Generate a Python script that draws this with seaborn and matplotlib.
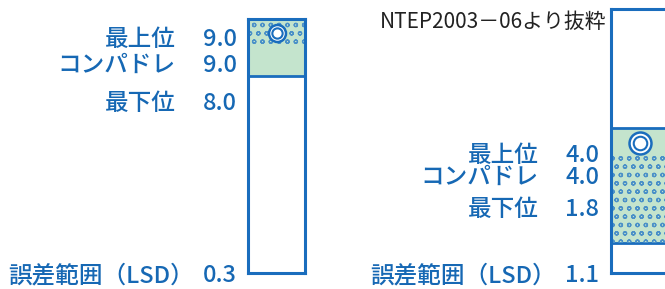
import matplotlib
matplotlib.use("Agg")
import matplotlib.pyplot as plt
import seaborn as sns

# 評価値（NTEP2003-06より）
row_names = ["最上位", "コンパドレ", "最下位"]
left_values = [9.0, 9.0, 8.0]
right_values = [4.0, 4.0, 1.8]
lsd_name = "誤差範囲（LSD）"
left_lsd = 0.3
right_lsd = 1.1

# 縦棒スケール（1〜9）と緑の帯、ボール位置、ドット帯
scale_min, scale_max = 1, 9
left_band = (7.2, 9.0)
right_band = (1.9, 5.4)
left_ball = 8.56
right_ball = 4.94
left_dots = (8.15, 9.0)
right_dots = (1.9, 4.55)

note = "NTEP2003－06より抜粋"

blue_text = "#1668b4"
blue_line = "#1a6dbd"
green = "#c4e4cd"
dot_col = "#4a90c8"

sns.set_style("white")
plt.rcParams["font.family"] = ["Noto Sans CJK JP", "DejaVu Sans"]
plt.rcParams["hatch.linewidth"] = 0.9

W, H = 665, 289
fig = plt.figure(figsize=(W / 100, H / 100), dpi=100)


def fx(px):
    return px / W


def fy(py):
    return 1 - py / H


def draw_column(ax, band, dots, ball, ball_size):
    sns.barplot(x=[0], y=[band[1] - band[0]], bottom=band[0], width=1,
                color=green, edgecolor=blue_line, linewidth=2, saturation=1, ax=ax)
    ax.bar([0], [dots[1] - dots[0]], bottom=dots[0], width=1, facecolor="none",
           edgecolor=dot_col, linewidth=0, hatch="oo")
    ax.scatter([0], [ball], s=ball_size[0], facecolor="white", edgecolor=blue_line,
               linewidth=1.8, zorder=5)
    ax.scatter([0], [ball], s=ball_size[1], facecolor="white", edgecolor=blue_line,
               linewidth=1.5, zorder=6)
    ax.set_xlim(-0.5, 0.5)
    ax.set_ylim(scale_min, scale_max)
    ax.set_xticks([])
    ax.set_yticks([])
    ax.set_xlabel("")
    ax.set_ylabel("")
    for sp in ax.spines.values():
        sp.set_visible(True)
        sp.set_color(blue_line)
        sp.set_linewidth(2.2)


ax_l = fig.add_axes([fx(248), fy(273), fx(57), (273 - 19) / H])
draw_column(ax_l, left_band, left_dots, left_ball, (150, 55))

ax_r = fig.add_axes([fx(611), fy(273), fx(57), (273 - 9) / H])
draw_column(ax_r, right_band, right_dots, right_ball, (250, 95))

fs = 17


def labels(values, lsd, name_x, num_x, rows_y, lsd_name_x):
    kw = dict(va="center", fontsize=fs, color=blue_text, fontweight="medium")
    for name, v, y in zip(row_names, values, rows_y):
        fig.text(fx(name_x), fy(y), name, ha="right", **kw)
        fig.text(fx(num_x), fy(y), f"{v:.1f}", ha="right", **kw)
    fig.text(fx(lsd_name_x), fy(276), lsd_name, ha="right", **kw)
    fig.text(fx(num_x), fy(276), f"{lsd:.1f}", ha="right", **kw)


labels(left_values, left_lsd, 176, 237, [40, 65, 103], 194)
labels(right_values, right_lsd, 539, 599, [155, 177, 210], 556)

fig.text(fx(607), fy(22), note, ha="right", va="center", fontsize=15, color="#222222")

fig.savefig("out.png", dpi=100)
